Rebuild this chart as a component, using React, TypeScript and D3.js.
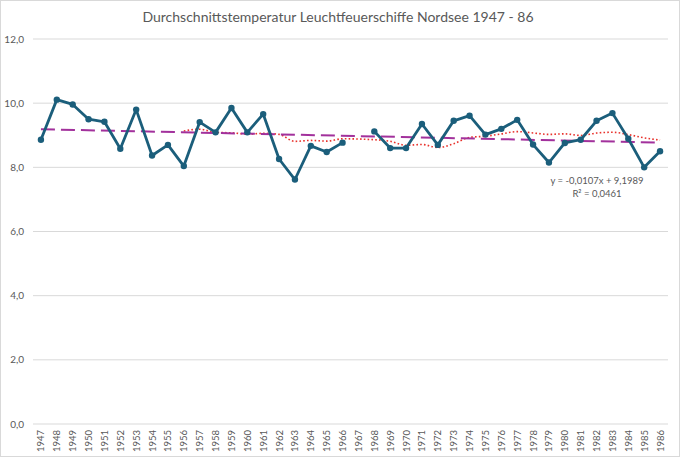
import { useEffect, useRef } from 'react';
import * as d3 from 'd3';

const years: string[] = d3.range(1947, 1987).map(String);

// Jahresmittel in °C, 1967 fehlt
const temps: (number | null)[] = [
	8.86, 10.11, 9.96, 9.5, 9.42, 8.58, 9.8, 8.37, 8.7, 8.04,
	9.41, 9.09, 9.85, 9.09, 9.66, 8.26, 7.62, 8.67, 8.48, 8.77,
	null, 9.12, 8.6, 8.6, 9.35, 8.7, 9.45, 9.61, 9.02, 9.2,
	9.48, 8.71, 8.15, 8.76, 8.86, 9.45, 9.69, 8.89, 8.0, 8.5,
];

const yTicks: number[] = [0, 2, 4, 6, 8, 10, 12];

const trendSlope = -0.0107;
const trendIntercept = 9.1989;
const trendLabel = ['y = -0,0107x + 9,1989', 'R² = 0,0461'];
const maPeriod = 10;

const title = 'Durchschnittstemperatur Leuchtfeuerschiffe Nordsee 1947 - 86';

const W = 680;
const H = 457;

export default function App() {
	const svgRef = useRef<SVGSVGElement>(null);

	useEffect(() => {
		if (!svgRef.current) return;
		const svg = d3.select(svgRef.current);
		svg.selectAll('*').remove();

		const left = 33;
		const right = 668;
		const top = 39;
		const bottom = 424;
		const font = 'Lato, "Open Sans", sans-serif';
		const grey = '#595959';

		svg.append('rect')
			.attr('x', 0.5).attr('y', 0.5)
			.attr('width', W - 1).attr('height', H - 1)
			.attr('fill', '#fff')
			.attr('stroke', '#d9d9d9');

		const x = d3.scalePoint<string>().domain(years).range([left, right]).padding(0.5);
		const y = d3.scaleLinear().domain([0, 12]).range([bottom, top]);

		// grid
		svg.append('g')
			.selectAll('line')
			.data(yTicks)
			.join('line')
			.attr('x1', left).attr('x2', right)
			.attr('y1', (d) => y(d)).attr('y2', (d) => y(d))
			.attr('stroke', '#d9d9d9')
			.attr('stroke-width', 1);

		svg.append('g')
			.selectAll('text')
			.data(yTicks)
			.join('text')
			.attr('x', 24)
			.attr('y', (d) => y(d) + 3.5)
			.attr('text-anchor', 'end')
			.style('font-family', font)
			.style('font-size', '10px')
			.style('fill', grey)
			.text((d) => d.toFixed(1).replace('.', ','));

		svg.append('g')
			.selectAll('text')
			.data(years)
			.join('text')
			.attr('transform', (d) => `translate(${(x(d) ?? 0) + 3.5},${bottom + 17}) rotate(-90)`)
			.attr('text-anchor', 'middle')
			.style('font-family', font)
			.style('font-size', '9.5px')
			.style('fill', grey)
			.text((d) => d);

		const pts = years.map((yr, i) => ({ yr, i, v: temps[i] }));

		// gleitender Durchschnitt über 10 Werte (Lücken übersprungen)
		const valid = pts.filter((p) => p.v !== null);
		const ma = valid
			.map((p, k) => {
				if (k < maPeriod - 1) return null;
				const win = valid.slice(k - maPeriod + 1, k + 1);
				return { yr: p.yr, v: d3.mean(win, (w) => w.v as number) as number };
			})
			.filter((d): d is { yr: string; v: number } => d !== null);

		svg.append('path')
			.datum(ma)
			.attr('fill', 'none')
			.attr('stroke', '#e8322c')
			.attr('stroke-width', 1.6)
			.attr('stroke-dasharray', '1.6,2.2')
			.attr('d', d3.line<{ yr: string; v: number }>()
				.x((d) => x(d.yr) ?? 0)
				.y((d) => y(d.v))
				.curve(d3.curveMonotoneX));

		// lineare Trendlinie
		const trend = [0, years.length - 1].map((i) => ({ yr: years[i], v: trendIntercept + trendSlope * (i + 1) }));
		svg.append('path')
			.datum(trend)
			.attr('fill', 'none')
			.attr('stroke', '#a2319c')
			.attr('stroke-width', 2)
			.attr('stroke-dasharray', '14,6')
			.attr('d', d3.line<{ yr: string; v: number }>()
				.x((d) => x(d.yr) ?? 0)
				.y((d) => y(d.v)));

		svg.append('path')
			.datum(pts)
			.attr('fill', 'none')
			.attr('stroke', '#1b5e7b')
			.attr('stroke-width', 2.8)
			.attr('stroke-linejoin', 'round')
			.attr('d', d3.line<{ yr: string; v: number | null }>()
				.defined((d) => d.v !== null)
				.x((d) => x(d.yr) ?? 0)
				.y((d) => y(d.v as number)));

		svg.append('g')
			.selectAll('circle')
			.data(valid)
			.join('circle')
			.attr('cx', (d) => x(d.yr) ?? 0)
			.attr('cy', (d) => y(d.v as number))
			.attr('r', 3.2)
			.attr('fill', '#1b5e7b');

		const lbl = svg.append('g').style('font-family', font).style('font-size', '9.5px').style('fill', grey);
		lbl.append('text').attr('x', 597).attr('y', 184).attr('text-anchor', 'middle').text(trendLabel[0]);
		lbl.append('text').attr('x', 597).attr('y', 197).attr('text-anchor', 'middle').text(trendLabel[1]);

		svg.append('text')
			.attr('x', 338)
			.attr('y', 22)
			.attr('text-anchor', 'middle')
			.style('font-family', font)
			.style('font-size', '14px')
			.style('fill', grey)
			.text(title);
	}, []);

	return (
		<div style={{ position: 'absolute', left: 0, top: 0 }}>
			<svg ref={svgRef} width={W} height={H} style={{ display: 'block' }} />
		</div>
	);
}
